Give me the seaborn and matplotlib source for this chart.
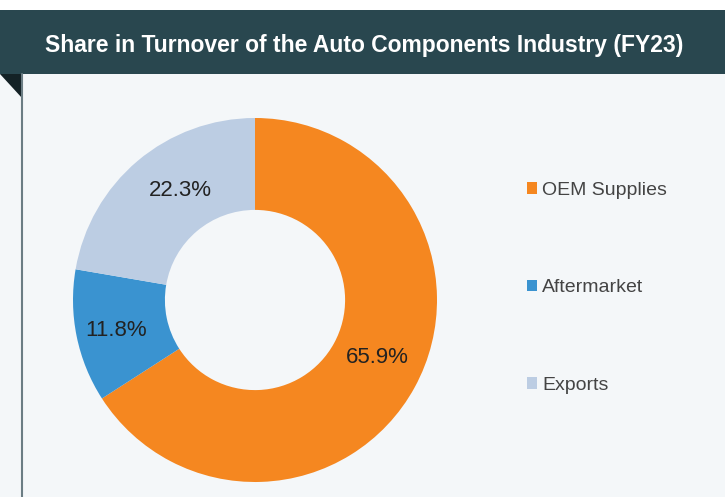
import numpy as np
import matplotlib.pyplot as plt
import seaborn as sns
from matplotlib.patches import Rectangle, Polygon

segments = ['OEM Supplies', 'Aftermarket', 'Exports']
shares = [65.9, 11.8, 22.3]
colors = ['#f58720', '#3a93d0', '#bccde3']
title = 'Share in Turnover of the Auto Components Industry (FY23)'

sns.set_style('white')
plt.rcParams['font.family'] = ['Liberation Sans', 'DejaVu Sans']

W, H = 725, 497
fig = plt.figure(figsize=(W / 100, H / 100), dpi=100)
fig.patch.set_facecolor('#f4f7f9')

# header band, white strip on top, corner triangle and left rule
fig.patches.append(Rectangle((0, 1 - 10 / H), 1, 10 / H, transform=fig.transFigure,
                             facecolor='white', edgecolor='none', zorder=0))
fig.patches.append(Rectangle((0, 1 - 74 / H), 1, 64 / H, transform=fig.transFigure,
                             facecolor='#29474f', edgecolor='none', zorder=0))
fig.patches.append(Polygon([(0, 1 - 74 / H), (22 / W, 1 - 74 / H), (22 / W, 1 - 98 / H)],
                           closed=True, transform=fig.transFigure,
                           facecolor='#142226', edgecolor='none', zorder=0))
fig.add_artist(plt.Line2D([22 / W, 22 / W], [0, 1 - 74 / H], transform=fig.transFigure,
                          color='#6b7d84', linewidth=1.5))
fig.text(364 / W, 1 - 46 / H, title, color='white', fontsize=16.5,
         fontweight='bold', ha='center', va='center')

# donut: center (255, 300) px, outer radius 182 px
cx, cy, r = 255, 300, 182
pad = 1.02
ax = fig.add_axes([(cx - r * pad) / W, (H - cy - r * pad) / H,
                   2 * r * pad / W, 2 * r * pad / H])
ax.set_facecolor('none')
wedges, texts, autotexts = ax.pie(
    shares, colors=colors, startangle=90, counterclock=False,
    wedgeprops=dict(width=0.505, edgecolor='none'),
    autopct='%.1f%%', pctdistance=0.75,
    textprops=dict(fontsize=16, color='#222222'))
ax.set_xlim(-pad, pad)
ax.set_ylim(-pad, pad)
ax.set_aspect('equal')

# small nudges of the value labels (pixels, y up)
nudges = [(2, 8), (-5, -3), (13, 5)]
for t, (dx, dy) in zip(autotexts, nudges):
    x, y = t.get_position()
    t.set_position((x + dx / r, y + dy / r))

leg = fig.legend(wedges, segments, loc='upper left',
                 bbox_to_anchor=(519 / W, 1 - 174 / H), frameon=False,
                 fontsize=14, handlelength=0.55, handleheight=0.55,
                 handletextpad=0.25, labelspacing=4.15, borderaxespad=0)
for t in leg.get_texts():
    t.set_color('#444444')

fig.savefig('out.png', dpi=100, facecolor=fig.get_facecolor())
